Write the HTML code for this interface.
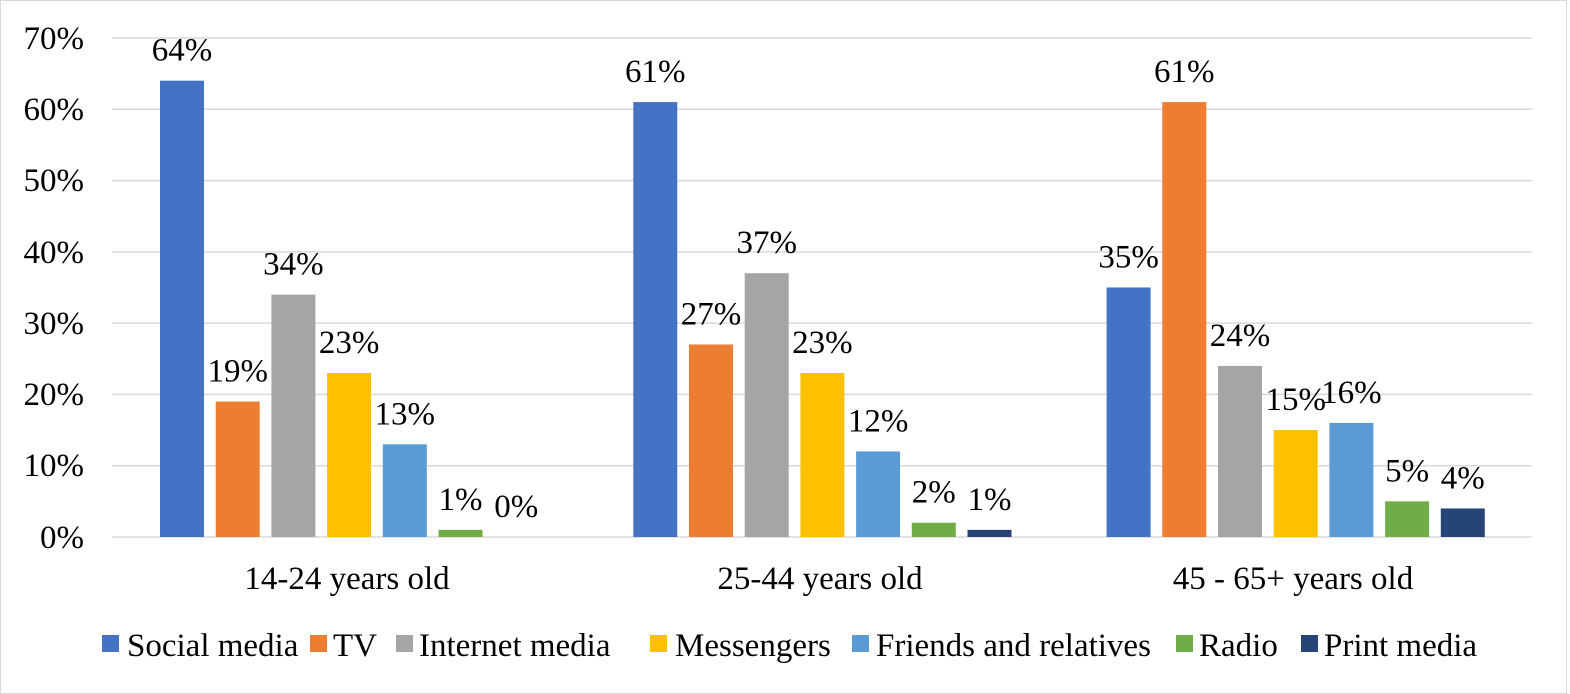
<!DOCTYPE html>
<html><head><meta charset="utf-8"><style>
html,body{margin:0;padding:0;background:#fff;}
svg{display:block;font-family:"Liberation Serif",serif;}
</style></head><body>
<svg width="1570" height="694" viewBox="0 0 1570 694" xmlns="http://www.w3.org/2000/svg">
<rect x="0.5" y="0.5" width="1566" height="693" fill="#fff" stroke="#d9d9d9"/>
<g stroke="#d9d9d9" stroke-width="1.5">
<line x1="112" x2="1532" y1="38" y2="38"/>
<line x1="112" x2="1532" y1="109.3" y2="109.3"/>
<line x1="112" x2="1532" y1="180.6" y2="180.6"/>
<line x1="112" x2="1532" y1="251.9" y2="251.9"/>
<line x1="112" x2="1532" y1="323.1" y2="323.1"/>
<line x1="112" x2="1532" y1="394.4" y2="394.4"/>
<line x1="112" x2="1532" y1="465.7" y2="465.7"/>
<line x1="112" x2="1532" y1="537" y2="537"/>
</g>
<g font-size="33" text-anchor="end" fill="#000">
<text x="84" y="49">70%</text>
<text x="84" y="120">60%</text>
<text x="84" y="191">50%</text>
<text x="84" y="263">40%</text>
<text x="84" y="334">30%</text>
<text x="84" y="405">20%</text>
<text x="84" y="476">10%</text>
<text x="84" y="548">0%</text>
</g>
<g id="bars"></g>
<g font-size="33" text-anchor="middle" id="lbls"></g>
<g font-size="33" text-anchor="middle">
<text x="347" y="589">14-24 years old</text>
<text x="820" y="589">25-44 years old</text>
<text x="1293" y="589">45 - 65+ years old</text>
</g>
<g font-size="33">
<rect x="102" y="635" width="17" height="17" fill="#4472C4"/><text x="127" y="656">Social media</text>
<rect x="310" y="635" width="17" height="17" fill="#ED7D31"/><text x="333" y="656">TV</text>
<rect x="396" y="635" width="17" height="17" fill="#A5A5A5"/><text x="419" y="656">Internet media</text>
<rect x="650" y="635" width="17" height="17" fill="#FFC000"/><text x="675" y="656">Messengers</text>
<rect x="852" y="635" width="17" height="17" fill="#5B9BD5"/><text x="876" y="656">Friends and relatives</text>
<rect x="1176" y="635" width="17" height="17" fill="#70AD47"/><text x="1199" y="656">Radio</text>
<rect x="1301" y="635" width="17" height="17" fill="#264478"/><text x="1324" y="656">Print media</text>
</g>
<script>
var data=[[64,19,34,23,13,1,0],[61,27,37,23,12,2,1],[35,61,24,15,16,5,4]];
var col=["#4472C4","#ED7D31","#A5A5A5","#FFC000","#5B9BD5","#70AD47","#264478"];
var ns="http://www.w3.org/2000/svg",b=document.getElementById("bars"),l=document.getElementById("lbls");
for(var g=0;g<3;g++)for(var i=0;i<7;i++){var v=data[g][i],x=160+g*473.3+i*55.7,h=v*7.13,t=537-h;
if(v>0){var r=document.createElementNS(ns,"rect");r.setAttribute("x",x);r.setAttribute("y",t);r.setAttribute("width",44);r.setAttribute("height",h);r.setAttribute("fill",col[i]);b.appendChild(r);}
var s=document.createElementNS(ns,"text");s.setAttribute("x",x+22);s.setAttribute("y",t-20);s.textContent=v+"%";l.appendChild(s);}
</script>
</svg>
</body></html>
